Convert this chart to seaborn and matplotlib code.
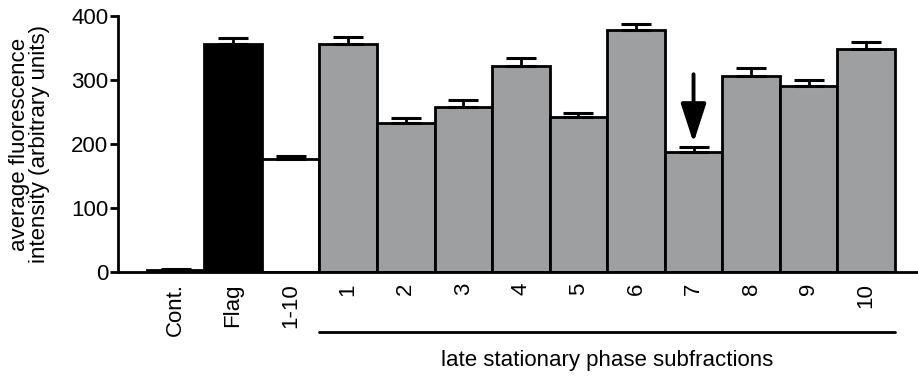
import matplotlib
matplotlib.use("Agg")
import matplotlib.pyplot as plt
import matplotlib.transforms as mtransforms
import seaborn as sns
import pandas as pd

# Mean fluorescence per sample and the upper SEM
categories = ["Cont.", "Flag", "1-10", "1", "2", "3", "4", "5", "6", "7", "8", "9", "10"]
means = [3, 356, 176, 356, 233, 258, 322, 242, 378, 188, 307, 291, 348]
errors = [1, 10, 5, 11, 7, 11, 12, 7, 9, 7, 11, 9, 11]
fills = ["#ffffff", "#000000", "#ffffff"] + ["#9c9fa0"] * 10

sns.set_theme(style="ticks")
plt.rcParams["font.family"] = ["Liberation Sans", "DejaVu Sans"]
plt.rcParams["text.color"] = "black"
plt.rcParams["axes.labelcolor"] = "black"
plt.rcParams["xtick.color"] = "black"
plt.rcParams["ytick.color"] = "black"

df = pd.DataFrame({"sample": categories, "intensity": means})

fig = plt.figure(figsize=(9.18, 3.77), dpi=100)
ax = fig.add_axes([0.1285, 0.2785, 0.8715, 0.679])

sns.barplot(data=df, x="sample", y="intensity", hue="sample",
            palette=fills, order=categories, hue_order=categories,
            width=1.0, edgecolor="black", linewidth=2.0,
            legend=False, errorbar=None, ax=ax)

# one-sided (upper) error bars
xs = list(range(len(categories)))
ax.errorbar(xs, means, yerr=[[0] * len(means), errors], fmt="none",
            ecolor="black", elinewidth=2.0, capsize=11, capthick=2.2, zorder=3)

ax.set_xlim(-1.0, 12.9)
ax.set_ylim(0, 400)
ax.set_yticks([0, 100, 200, 300, 400])
ax.tick_params(axis="y", labelsize=16, width=2, length=6, direction="out", pad=1,
               colors="black")
ax.tick_params(axis="x", length=0, labelsize=16, pad=8, colors="black")
ax.set_xticks(xs)
ax.set_xticklabels(categories, rotation=90)
ax.set_xlabel("")
ax.set_ylabel("average fluorescence\nintensity (arbitrary units)", fontsize=16,
              linespacing=0.95, color="black")
ax.yaxis.set_label_coords(-0.085, 0.5)

for side in ["top", "right"]:
    ax.spines[side].set_visible(False)
for side in ["left", "bottom"]:
    ax.spines[side].set_linewidth(2)
    ax.spines[side].set_color("black")

# bracket line under the subfraction group and its caption
trans = mtransforms.blended_transform_factory(ax.transData, ax.transAxes)
ax.plot([2.5, 12.5], [-0.234, -0.234], color="black", lw=2,
        transform=trans, clip_on=False)
ax.text(7.5, -0.345, "late stationary phase subfractions", transform=trans,
        ha="center", va="center", fontsize=16, color="black")

# arrow pointing at subfraction 7
ax.annotate("", xy=(9, 202), xytext=(9, 309),
            arrowprops=dict(arrowstyle="-|>,head_length=2.0,head_width=0.65",
                            color="black", lw=2.8, shrinkA=0, shrinkB=0))

fig.savefig("out.png", dpi=100)
